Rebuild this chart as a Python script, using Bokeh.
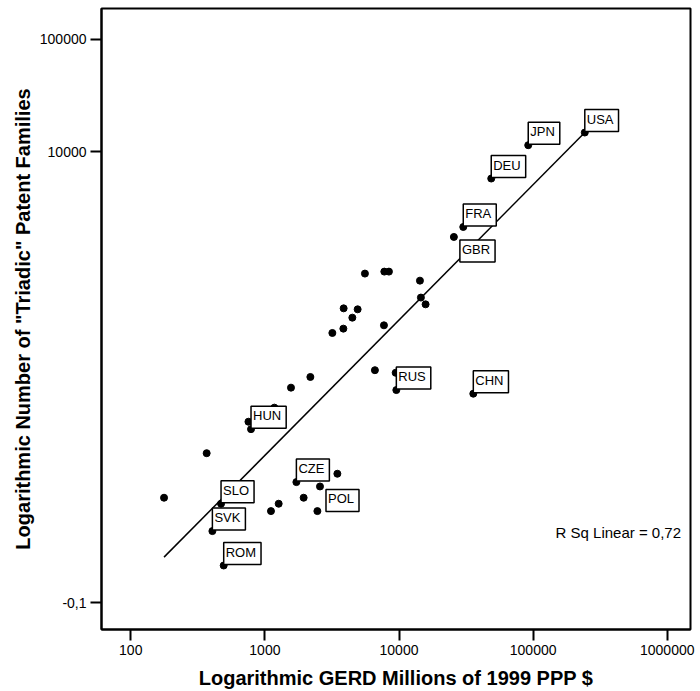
from bokeh.plotting import figure
from bokeh.models import ColumnDataSource, Label, FixedTicker, Range1d
from bokeh.core.properties import value
from bokeh.embed import file_html
from bokeh.resources import INLINE

# ---- data ----
gerd = [242700, 91900, 48700, 30130, 25650, 5570, 7770, 8410, 14320, 14560,
        15780, 3865, 4915, 4487, 3846, 3184, 7720, 6610, 9440, 9550,
        35800, 2183, 1565, 1177, 754, 788, 368, 177, 471, 406,
        493, 1717, 3470, 2575, 1945, 1267, 1110, 2462]
patents = [14860, 11470, 5808, 2160, 1762, 834, 868, 868, 722, 511,
           445, 410, 402, 339, 271, 248, 290, 116, 110, 77.3,
           71.8, 101, 81.2, 54.0, 40.5, 34.8, 21.3, 8.58, 7.59, 4.34,
           2.15, 11.8, 14.0, 10.8, 8.58, 7.59, 6.53, 6.53]
codes = ["USA", "JPN", "DEU", "FRA", "GBR", "", "", "", "", "",
         "", "", "", "", "", "", "", "", "", "RUS",
         "CHN", "", "", "", "", "HUN", "", "", "SLO", "SVK",
         "ROM", "CZE", "", "POL", "", "", "", ""]
labels_below = ["GBR", "POL"]

fit_gerd = [177, 242700]
fit_patents = [2.55, 14860]

x_ticks = [100, 1000, 10000, 100000, 1000000]
x_tick_labels = ["100", "1000", "10000", "100000", "1000000"]
y_ticks = [1, 10000, 100000]
y_tick_labels = ["-0,1", "10000", "100000"]

x_title = "Logarithmic GERD Millions of 1999 PPP $"
y_title = 'Logarithmic Number of "Triadic" Patent Families'
r_sq_text = "R Sq Linear = 0,72"
r_sq_pos = (146900, 4.23)

FONT = "Liberation Sans"

p = figure(width=700, height=691, x_axis_type="log", y_axis_type="log",
           x_range=Range1d(60.5, 1.49e6), y_range=Range1d(0.582, 187000),
           output_backend="svg", toolbar_location=None,
           min_border_left=101, min_border_right=10, min_border_top=8,
           min_border_bottom=62)
p.background_fill_color = "white"
p.border_fill_color = "white"
p.outline_line_color = "black"
p.outline_line_width = 2
p.xgrid.visible = False
p.ygrid.visible = False

for ax, ticks, labs in ((p.xaxis[0], x_ticks, x_tick_labels), (p.yaxis[0], y_ticks, y_tick_labels)):
    ax.ticker = FixedTicker(ticks=ticks, minor_ticks=[])
    ax.major_label_overrides = {float(t): l for t, l in zip(ticks, labs)}
    ax.axis_line_color = "black"
    ax.axis_line_width = 2
    ax.major_tick_line_color = "black"
    ax.major_tick_line_width = 2
    ax.major_tick_in = 0
    ax.major_tick_out = 11
    ax.minor_tick_line_color = None
    ax.major_label_text_font = FONT
    ax.major_label_text_font_size = "14px"
    ax.major_label_text_color = "black"
    ax.axis_label_text_font = FONT
    ax.axis_label_text_font_style = "bold"
    ax.axis_label_text_font_size = "20px"
    ax.axis_label_text_color = "black"

p.xaxis.axis_label = x_title
p.yaxis.axis_label = y_title
p.xaxis.major_label_standoff = 4
p.xaxis.axis_label_standoff = 9
p.yaxis.major_label_standoff = 4
p.yaxis.axis_label_standoff = 3

# fit line
p.line(fit_gerd, fit_patents, line_color="black", line_width=1.5)

# points
p.scatter(gerd, patents, size=7, color="black")

above = dict(x=[], y=[], t=[])
below = dict(x=[], y=[], t=[])
for xv, yv, c in zip(gerd, patents, codes):
    if not c:
        continue
    d = below if c in labels_below else above
    d["x"].append(xv)
    d["y"].append(yv)
    d["t"].append(c)

common = dict(text_font=value(FONT), text_font_size="13px", text_color="black",
              background_fill_color="white", border_line_color="black",
              border_line_width=1.5, padding=(2, 5, 2, 5), text_align="left")
p.text(x="x", y="y", text="t", source=ColumnDataSource(above),
       text_baseline="bottom", x_offset=0, y_offset=-1, **common)
p.text(x="x", y="y", text="t", source=ColumnDataSource(below),
       text_baseline="top", x_offset=6, y_offset=3, **common)

p.add_layout(Label(x=r_sq_pos[0], y=r_sq_pos[1], text=r_sq_text, text_font=FONT,
                   text_font_size="15px", text_color="black",
                   text_align="left", text_baseline="middle"))

open("out.html", "w").write(file_html(p, INLINE))
